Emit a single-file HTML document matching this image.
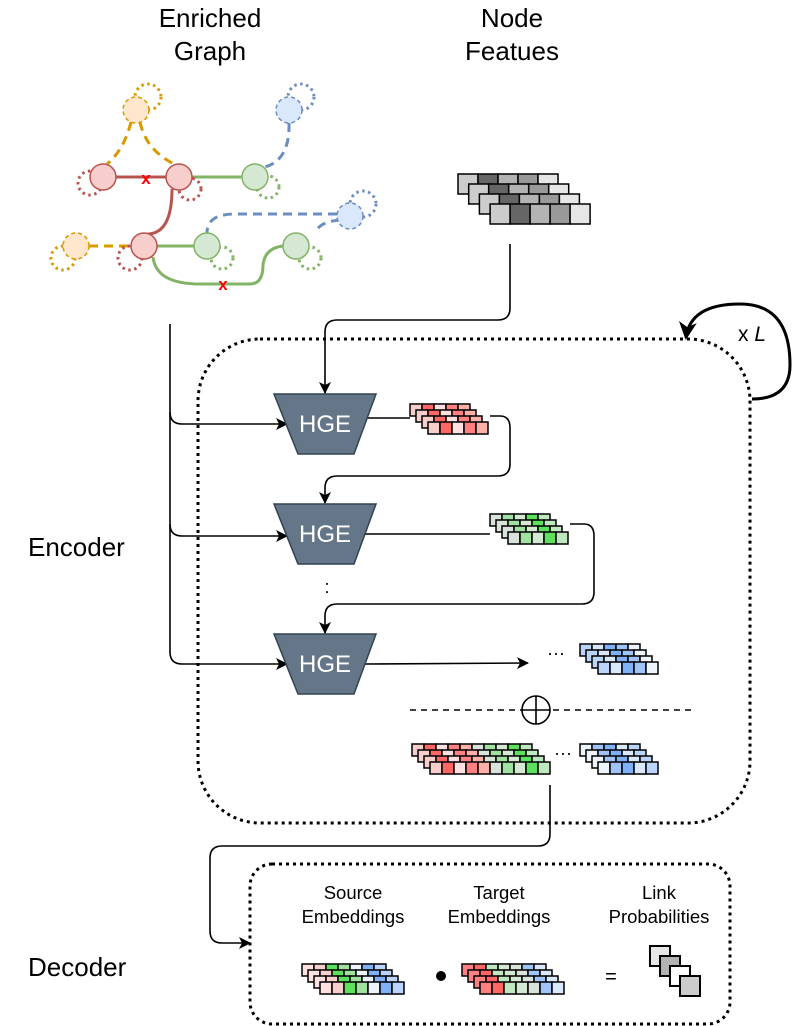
<!DOCTYPE html>
<html><head><meta charset="utf-8"><style>
html,body{margin:0;padding:0;background:#fff;}
svg{display:block;font-family:"Liberation Sans",Arial,sans-serif;}
</style></head><body>
<svg id="s" width="794" height="1026" viewBox="0 0 794 1026" xmlns="http://www.w3.org/2000/svg">
<defs>
<marker id="ah" markerWidth="12" markerHeight="12" refX="11" refY="6" orient="auto" markerUnits="userSpaceOnUse"><path d="M0,0 L12,6 L0,12 L3,6 Z" fill="#000"/></marker>
<marker id="ahb" markerWidth="18" markerHeight="18" refX="16" refY="9" orient="auto" markerUnits="userSpaceOnUse"><path d="M0,0 L18,9 L0,18 L5,9 Z" fill="#000"/></marker>
</defs>
<!-- titles -->
<text x="210" y="27" font-size="26" text-anchor="middle">Enriched</text>
<text x="210" y="60" font-size="26" text-anchor="middle">Graph</text>
<text x="512" y="27" font-size="26" text-anchor="middle">Node</text>
<text x="512" y="60" font-size="26" text-anchor="middle">Featues</text>
<text x="28" y="556" font-size="26">Encoder</text>
<text x="28" y="976" font-size="26">Decoder</text>

<!-- graph -->
<g fill="none" stroke-width="3">
<path d="M131,122 Q124,150 107,164" stroke="#d79b00" stroke-dasharray="9,6"/>
<path d="M140,122 Q146,150 174,164" stroke="#d79b00" stroke-dasharray="9,6"/>
<path d="M89,246 L131,246" stroke="#d79b00" stroke-dasharray="9,6"/>
<path d="M289,123 Q290,160 265,167" stroke="#6c8ebf" stroke-dasharray="9,6"/>
<path d="M337,214 L235,214 Q207,214 207,233" stroke="#6c8ebf" stroke-dasharray="9,6"/>
<path d="M340,220 Q318,222 316,233" stroke="#6c8ebf" stroke-dasharray="9,6"/>
<path d="M116,177 L166,177" stroke="#b85450"/>
<path d="M172,189 Q172,233 148,234" stroke="#b85450"/>
<path d="M192,177 L242,177" stroke="#82b366"/>
<path d="M157,246 L194,246" stroke="#82b366"/>
<path d="M153,257 Q156,284 200,284 L250,284 Q263,284 263,265 Q265,248 283,246" stroke="#82b366"/>
</g>
<g fill="none" stroke-width="3" stroke-dasharray="2.5,3.5">
<circle cx="148" cy="97" r="13" stroke="#d79b00"/>
<circle cx="90" cy="183" r="12" stroke="#b85450"/>
<circle cx="190" cy="189" r="11" stroke="#b85450"/>
<circle cx="268" cy="187" r="11" stroke="#82b366"/>
<circle cx="301" cy="97" r="13" stroke="#6c8ebf"/>
<circle cx="363" cy="204" r="13" stroke="#6c8ebf"/>
<circle cx="63" cy="258" r="12" stroke="#d79b00"/>
<circle cx="130" cy="258" r="12" stroke="#b85450"/>
<circle cx="222" cy="258" r="11" stroke="#82b366"/>
<circle cx="310" cy="258" r="11" stroke="#82b366"/>
</g>
<g stroke-width="1.5">
<circle cx="136" cy="110" r="13" fill="#ffe6cc" stroke="#d79b00" stroke-dasharray="4,3"/>
<circle cx="289" cy="110" r="13" fill="#dae8fc" stroke="#6c8ebf" stroke-dasharray="4,3"/>
<circle cx="350" cy="216" r="13" fill="#dae8fc" stroke="#6c8ebf" stroke-dasharray="4,3"/>
<circle cx="76" cy="246" r="13" fill="#ffe6cc" stroke="#d79b00" stroke-dasharray="4,3"/>
<circle cx="103" cy="177" r="13" fill="#f8cecc" stroke="#b85450"/>
<circle cx="179" cy="177" r="13" fill="#f8cecc" stroke="#b85450"/>
<circle cx="144" cy="246" r="13" fill="#f8cecc" stroke="#b85450"/>
<circle cx="255" cy="177" r="13" fill="#d5e8d4" stroke="#82b366"/>
<circle cx="207" cy="246" r="13" fill="#d5e8d4" stroke="#82b366"/>
<circle cx="296" cy="246" r="13" fill="#d5e8d4" stroke="#82b366"/>
</g>
<text x="146" y="184" font-size="17" font-weight="bold" fill="#f00" text-anchor="middle">x</text>
<text x="223" y="290" font-size="17" font-weight="bold" fill="#f00" text-anchor="middle">x</text>

<!-- encoder frame -->
<rect x="198" y="339" width="552" height="484" rx="62" fill="none" stroke="#000" stroke-width="3" stroke-dasharray="3,4"/>
<path d="M752,399 Q790,399 790,365 Q790,304 740,304 Q690,304 686,338" fill="none" stroke="#000" stroke-width="3" marker-end="url(#ahb)"/>
<text x="738" y="341" font-size="21">x <tspan font-style="italic">L</tspan></text>

<!-- connectors -->
<g fill="none" stroke="#000" stroke-width="1.6">
<path d="M510,244 L510,308 Q510,320 498,320 L337,320 Q325,320 325,332 L325,393" marker-end="url(#ah)"/>
<path d="M170,324 L170,412 Q170,424 182,424 L287,424" marker-end="url(#ah)"/>
<path d="M170,412 L170,524 Q170,536 182,536 L287,536" marker-end="url(#ah)"/>
<path d="M170,524 L170,652 Q170,664 182,664 L287,664" marker-end="url(#ah)"/>
<path d="M362,418 L410,418"/>
<path d="M490,416 L500,416 Q510,416 510,428 L510,464 Q510,476 498,476 L337,476 Q325,476 325,488 L325,503" marker-end="url(#ah)"/>
<path d="M365,534 L490,534"/>
<path d="M570,524 L584,524 Q594,524 594,536 L594,592 Q594,604 582,604 L337,604 Q325,604 325,616 L325,633" marker-end="url(#ah)"/>
<path d="M365,664 L528,663" marker-end="url(#ah)"/>
<path d="M410,710 L692,710" stroke-dasharray="6,5"/>
<path d="M550,785 L550,834 Q550,846 538,846 L222,846 Q210,846 210,858 L210,931 Q210,943 222,943 L250,943" marker-end="url(#ah)"/>
</g>
<circle cx="536" cy="710" r="14" fill="#fff" stroke="#000" stroke-width="1.6"/>
<path d="M522,710 L550,710 M536,696 L536,724" stroke="#000" stroke-width="1.6"/>
<text x="327" y="593" font-size="18" text-anchor="middle">:</text>
<text x="556" y="659" font-size="18" text-anchor="middle">···</text>
<text x="563" y="759" font-size="18" text-anchor="middle">···</text>

<!-- HGE -->
<g>
<path d="M274,394 L376,394 L354,454 L298,454 Z" fill="#647687" stroke="#314354" stroke-width="1.5"/>
<text x="325" y="432" font-size="24" fill="#fff" text-anchor="middle">HGE</text>
<path d="M274,504 L376,504 L354,564 L298,564 Z" fill="#647687" stroke="#314354" stroke-width="1.5"/>
<text x="325" y="542" font-size="24" fill="#fff" text-anchor="middle">HGE</text>
<path d="M274,634 L376,634 L354,694 L298,694 Z" fill="#647687" stroke="#314354" stroke-width="1.5"/>
<text x="325" y="672" font-size="24" fill="#fff" text-anchor="middle">HGE</text>
</g>

<!-- decoder -->
<rect x="250" y="864" width="480" height="160" rx="22" fill="none" stroke="#000" stroke-width="3" stroke-dasharray="3,4"/>
<g font-size="18.5" text-anchor="middle">
<text x="353" y="899">Source</text><text x="353" y="923">Embeddings</text>
<text x="499" y="899">Target</text><text x="499" y="923">Embeddings</text>
<text x="659" y="899">Link</text><text x="659" y="923">Probabilities</text>
</g>
<circle cx="441" cy="976" r="5" fill="#000"/>
<text x="611" y="983" font-size="20" text-anchor="middle">=</text>
<g stroke="#000" stroke-width="2">
<rect x="650" y="946" width="20" height="20" fill="#e6e6e6"/>
<rect x="660" y="956" width="20" height="20" fill="#b3b3b3"/>
<rect x="670" y="966" width="20" height="20" fill="#fff"/>
<rect x="680" y="976" width="20" height="20" fill="#ccc"/>
</g>
<g id="stacks"></g>
</svg>
<script>
var NS="http://www.w3.org/2000/svg",g=document.getElementById("stacks");
function stack(x,y,cw,ch,dx,dy,layers){
 layers.forEach(function(cols,i){
  cols.forEach(function(c,j){
   var r=document.createElementNS(NS,"rect");
   r.setAttribute("x",x+i*dx+j*cw);r.setAttribute("y",y+i*dy);
   r.setAttribute("width",cw);r.setAttribute("height",ch);
   r.setAttribute("fill",c);r.setAttribute("stroke","#000");r.setAttribute("stroke-width",1.5);
   g.appendChild(r);
  });
 });
}
var gr=["#ccc","#666","#b3b3b3","#999","#e6e6e6"];
stack(458,174,20,20,10.7,10,[gr,gr,gr,gr]);
var rd=["#f8cecc","#ff6666","#ffe0e0","#ff8080","#ffb0a8"];
stack(410,404,12,12,6,6,[rd,rd,rd,rd]);
var gn=["#dae3da","#a0e0a0","#d5e8d4","#5de05d","#c0e8c0"];
stack(490,514,12,12,6,6,[gn,gn,gn,gn]);
var bl=["#bad4fc","#dae8fc","#80b0f8","#a0c4fa","#eef4fc"];
stack(580,644,12,12,6,6,[bl,bl,bl,bl]);
var cc=rd.concat(gn);
stack(412,744,12,12,6,6,[cc,cc,cc,cc]);
var bl2=["#eef4fc","#a0c4fa","#80b0f8","#dae8fc","#bad4fc"];
stack(580,744,12,12,6,6,[bl2,bl2,bl2,bl2]);
var src=["#ffe0e0","#f8cecc","#5de05d","#a0e0a0","#eef4fc","#80b0f8","#bad4fc"];
stack(302,964,12,12,6,6,[src,src,src,src]);
var tg=["#ff8080","#ff6666","#c0e8c0","#d5e8d4","#dae3da","#a0c4fa","#dae8fc"];
stack(462,964,12,12,6,6,[tg,tg,tg,tg]);
</script>
</body></html>
